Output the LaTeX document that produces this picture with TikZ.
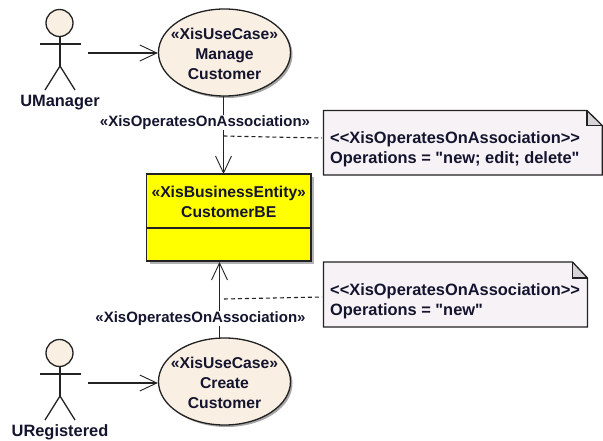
\documentclass[tikz,border=0pt]{standalone}
\usepackage{fontspec}
\setmainfont[Ligatures=TeXOff]{Liberation Sans}
\usetikzlibrary{arrows.meta,shapes.geometric,shadows}
\definecolor{txt}{HTML}{14142E}
\definecolor{skin}{HTML}{F9EFE3}
\definecolor{notefill}{HTML}{F6F2F6}
\definecolor{foldfill}{HTML}{D6D4D6}
\definecolor{lin}{HTML}{222222}
\definecolor{classfill}{RGB}{255,255,0}
\tikzset{
  x=1pt,y=-1pt,
  ln/.style={draw=lin,line width=1.3pt},
  base/.style={font=\fontsize{15.7}{20}\selectfont\bfseries,text=txt,align=center,inner sep=0pt},
  usecase/.style={ellipse,ln,fill=skin,minimum width=132pt,minimum height=87pt,inner sep=0pt,drop shadow={shadow xshift=2pt,shadow yshift=-2pt,fill=gray!70,opacity=1}},
  assoc/.style={ln,-{Straight Barb[length=17pt,width=16pt,line width=.9pt]}},
  lbl/.style={base,font=\fontsize{15}{20}\selectfont\bfseries,fill=white,inner xsep=1pt,inner ysep=1pt},
  actorname/.style={base,font=\fontsize{16.4}{20}\selectfont\bfseries},
  dashlink/.style={draw=lin,line width=1.1pt,dash pattern=on 4pt off 3pt},
  notebody/.style={base,font=\fontsize{16.4}{20}\selectfont\bfseries,align=left,anchor=north west,minimum height=0pt}
}
\begin{document}
\begin{tikzpicture}
\useasboundingbox (0,0) rectangle (603,441);
% class
\fill[gray!60] (149.5,177) rectangle (314,264);
\node[rectangle,draw=lin,line width=1.3pt,fill=classfill,minimum width=164.5pt,minimum height=87pt,inner sep=0pt] (cls) at (228.75,217.5) {};
\coordinate (divL) at (146.5,228); \coordinate (divR) at (311,228);
\draw[ln] (divL) -- (divR);
\node[base] (clsT) at (228.75,202) {«XisBusinessEntity»\\CustomerBE};
% use cases
\node[usecase] (uc1) at (224.5,52.5) {};
\node[base] (uc1T) at (224.5,54) {«XisUseCase»\\Manage\\Customer};
\node[usecase] (uc2) at (224.5,381.5) {};
\node[base] (uc2T) at (224.5,383) {«XisUseCase»\\Create\\Customer};
% actor 1
\node[circle,ln,fill=skin,minimum size=27pt,inner sep=0pt] (h1) at (59.5,23) {};
\coordinate (a1b) at (60,66);
\draw[ln] (h1.south -| a1b) -- (a1b);
\coordinate (a1l) at (40,44); \coordinate (a1r) at (81,44);
\coordinate (a1fl) at (45,90); \coordinate (a1fr) at (75,90);
\draw[ln] (a1l) -- (a1r);
\draw[ln] (a1fl) -- (a1b) -- (a1fr);
\node[actorname] (u1) at (60,103) {UManager};
% actor 2
\node[circle,ln,fill=skin,minimum size=27pt,inner sep=0pt] (h2) at (59.5,353) {};
\coordinate (a2b) at (60,396);
\draw[ln] (h2.south -| a2b) -- (a2b);
\coordinate (a2l) at (40,374); \coordinate (a2r) at (81,374);
\coordinate (a2fl) at (45,420); \coordinate (a2fr) at (75,420);
\draw[ln] (a2l) -- (a2r);
\draw[ln] (a2fl) -- (a2b) -- (a2fr);
\node[actorname] (u2) at (60,432) {URegistered};
% actor arrows
\coordinate (s1) at (88,53); \coordinate (s2) at (88,383);
\draw[assoc] (s1) -- (s1 -| uc1.west);
\draw[assoc] (s2) -- (s2 -| uc2.west);
% associations
\coordinate (c1t) at (223.5,96); \coordinate (c1b) at (223.5,174);
\coordinate (c2t) at (219.5,262); \coordinate (c2b) at (219.5,338);
\draw[assoc] (c1t) -- (c1b);
\draw[assoc] (c2b) -- (c2t);
\node[lbl] (l1) at (205,122.5) {«XisOperatesOnAssociation»};
\node[lbl] (l2) at (200.5,318.5) {«XisOperatesOnAssociation»};
% notes
\coordinate (n1a) at (323.5,110.5); \coordinate (n1b) at (587,110.5); \coordinate (n1c) at (602.3,125.5); \coordinate (n1d) at (602.3,175); \coordinate (n1e) at (323.5,175); \coordinate (n1f) at (587,125.5);
\fill[notefill] (n1a) -- (n1b) -- (n1c) -- (n1d) -- (n1e) -- cycle;
\fill[foldfill] (n1b) -- (n1c) -- (n1f) -- cycle;
\draw[ln] (n1a) -- (n1b) -- (n1c) -- (n1d) -- (n1e) -- cycle;
\draw[ln] (n1b) -- (n1f) -- (n1c);
\node[notebody] (t1) at (330,131.5) {<<XisOperatesOnAssociation>>\\Operations = "new; edit; delete"};
\coordinate (n2a) at (323.5,262); \coordinate (n2b) at (572.5,262); \coordinate (n2c) at (587.5,278); \coordinate (n2d) at (587.5,327); \coordinate (n2e) at (323.5,327); \coordinate (n2f) at (572.5,278);
\fill[notefill] (n2a) -- (n2b) -- (n2c) -- (n2d) -- (n2e) -- cycle;
\fill[foldfill] (n2b) -- (n2c) -- (n2f) -- cycle;
\draw[ln] (n2a) -- (n2b) -- (n2c) -- (n2d) -- (n2e) -- cycle;
\draw[ln] (n2b) -- (n2f) -- (n2c);
\node[notebody] (t2) at (330,283.5) {<<XisOperatesOnAssociation>>\\Operations = "new"};
% note links
\coordinate (d1) at (223.5,136); \coordinate (d1m) at (270,137); \coordinate (d1e) at (322,138);
\draw[dashlink] (d1) -- (d1m) -- (d1e);
\coordinate (d2) at (224,299); \coordinate (d2e) at (322,297);
\draw[dashlink] (d2) -- (d2e);
\end{tikzpicture}
\end{document}
